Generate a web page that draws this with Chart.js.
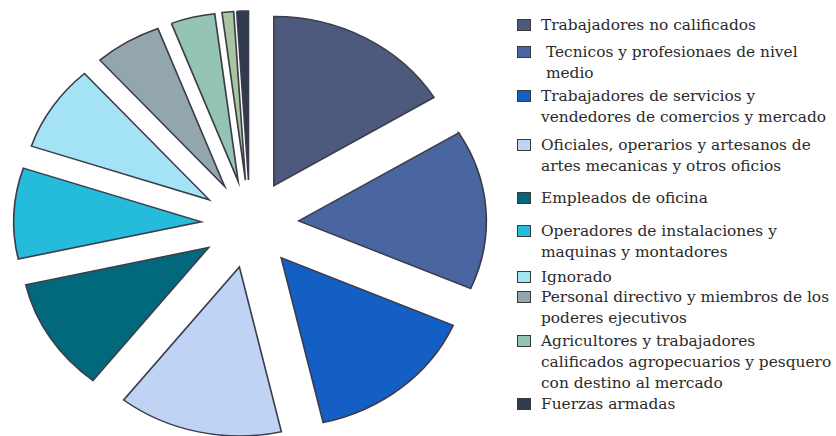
<!DOCTYPE html>
<html>
<head>
<meta charset="utf-8">
<script src="https://cdn.jsdelivr.net/npm/chart.js@4.4.1/dist/chart.umd.min.js"></script>
<style>
  body { margin: 0; background: #fff; }
  #wrap { position: relative; width: 836px; height: 436px; overflow: hidden; }
  #chartBox { position: absolute; left: 0; top: 0; width: 500px; height: 436px; }
  #legend { position: absolute; left: 517px; top: 14.5px; font-family: 'DejaVu Serif', serif; font-size: 15.4px; line-height: 21px; color: #2a2a2a; }
  #legend ul { list-style: none; margin: 0; padding: 0; }
  #legend li { display: flex; align-items: flex-start; margin-bottom: 4px; white-space: pre; }
  #legend li:nth-child(1) { margin-bottom: 6px; }
  #legend li:nth-child(2) { margin-bottom: 2px; }
  #legend li:nth-child(3) { margin-bottom: 7px; }
  #legend li:nth-child(4) { margin-bottom: 11px; }
  #legend li:nth-child(5) { margin-bottom: 12px; }
  #legend li:nth-child(6) { margin-bottom: 4px; }
  #legend li:nth-child(7) { margin-bottom: -1px; }
  #legend li:nth-child(8) { margin-bottom: 2px; }
  #legend li:nth-child(9) { margin-bottom: 0px; }
  #legend .box { width: 12px; height: 10px; border: 1px solid #3a3a3a; margin-top: 4px; margin-right: 10px; flex: none; }
</style>
</head>
<body>
<div id="wrap">
  <div id="chartBox"><canvas id="pie"></canvas></div>
  <div id="legend"></div>
</div>
<script>
// occupational groups, clockwise from 12 o'clock (one thin slice has no legend entry)
const labels = [
    ['Trabajadores no calificados'],
    [' Tecnicos y profesionaes de nivel', ' medio'],
    ['Trabajadores de servicios y', 'vendedores de comercios y mercado'],
    ['Oficiales, operarios y artesanos de', 'artes mecanicas y otros oficios'],
    ['Empleados de oficina'],
    ['Operadores de instalaciones y', 'maquinas y montadores'],
    ['Ignorado'],
    ['Personal directivo y miembros de los', 'poderes ejecutivos'],
    ['Agricultores y trabajadores', 'calificados agropecuarios y pesquero', 'con destino al mercado'],
    [''],
    ['Fuerzas armadas']
];

// share of workers, %
const shares = [16.3, 15.3, 14.9, 14.2, 10.9, 8.7, 8.3, 5.8, 3.8, 1.0, 1.0];

const colors = [
    '#4e5a7d', '#4a66a0', '#145fc4', '#bfd3f4', '#02697d', '#25bcdb',
    '#a4e3f5', '#93a5ad', '#94c4b4', '#a7c59f', '#303b50'
];

// the original pie is a little wider than tall
const stretchX = {
    id: 'stretchX',
    beforeDatasetsDraw(chart) {
        const a = chart.chartArea;
        const cx = (a.left + a.right) / 2;
        const cy = (a.top + a.bottom) / 2;
        const ctx = chart.ctx;
        ctx.save();
        ctx.translate(cx, cy);
        ctx.scale(1.11, 1);
        ctx.translate(-cx, -cy);
    },
    afterDatasetsDraw(chart) {
        chart.ctx.restore();
    }
};

// push every slice out along its middle angle; chart.js' own offset
// also trims small slices, the original keeps them whole
const explode = {
    id: 'explode',
    afterDatasetsUpdate(chart) {
        const dist = 44;
        chart.getDatasetMeta(0).data.forEach(arc => {
            const mid = (arc.startAngle + arc.endAngle) / 2;
            arc.x += Math.cos(mid) * dist;
            arc.y += Math.sin(mid) * dist;
        });
    }
};

// legend as html so the lines wrap like the original
const htmlLegend = {
    id: 'htmlLegend',
    afterUpdate(chart) {
        const box = document.getElementById('legend');
        box.innerHTML = '';
        const ul = document.createElement('ul');
        const items = chart.options.plugins.legend.labels.generateLabels(chart);
        items.forEach(item => {
            const text = chart.data.labels[item.index];
            if (!text.join('').trim()) return;
            const li = document.createElement('li');
            const sw = document.createElement('span');
            sw.className = 'box';
            sw.style.background = item.fillStyle;
            const span = document.createElement('span');
            span.textContent = text.join('\n');
            li.appendChild(sw);
            li.appendChild(span);
            ul.appendChild(li);
        });
        box.appendChild(ul);
    }
};

new Chart(document.getElementById('pie'), {
    type: 'pie',
    data: {
        labels: labels,
        datasets: [{
            data: shares,
            backgroundColor: colors,
            borderColor: '#3c3c4c',
            borderWidth: 1.5,
            borderJoinStyle: 'miter',
            radius: 169
        }]
    },
    options: {
        responsive: true,
        maintainAspectRatio: false,
        animation: false,
        layout: { padding: { top: 12 } },
        plugins: {
            legend: { display: false },
            tooltip: { enabled: false }
        }
    },
    plugins: [stretchX, explode, htmlLegend]
});
</script>
</body>
</html>
